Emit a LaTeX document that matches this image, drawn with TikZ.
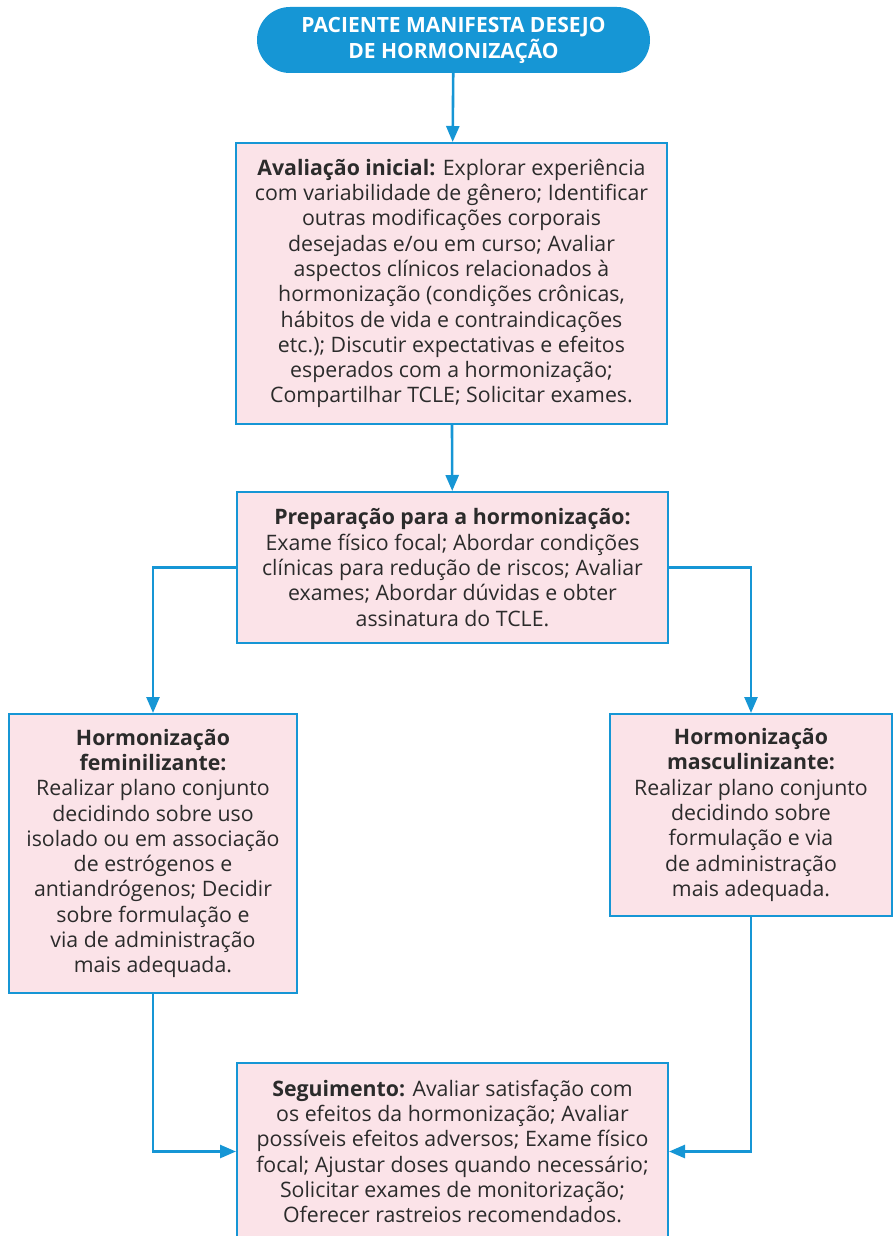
\documentclass[tikz,border=0pt]{standalone}
\usepackage{fontspec}
\setmainfont{Open Sans}
\usepackage{xcolor}
\usepackage{tikz}
\usetikzlibrary{arrows.meta,positioning}

\definecolor{fluxblue}{HTML}{1696D5}
\definecolor{fluxpink}{HTML}{FBE3E8}
\definecolor{fluxtext}{HTML}{2B2B2B}

\begin{document}
\begin{tikzpicture}[x=1pt,y=-1pt,
    startbox/.style={rectangle,rounded corners=33pt,fill=fluxblue,text=white,
      font=\fontsize{21}{26}\selectfont\bfseries,align=center,
      minimum width=393pt,minimum height=66pt,inner sep=0pt},
    stepbox/.style={rectangle,draw=fluxblue,line width=2pt,fill=fluxpink,
      text=fluxtext,font=\fontsize{21.3}{25.3}\selectfont,align=center,inner sep=0pt},
    arr/.style={draw=fluxblue,line width=2.6pt,
      -{Triangle[length=16pt,width=13pt]}}]
  \useasboundingbox (0,0) rectangle (893,1236);
  % start
  \node[startbox] (start) at (453.5,40) {PACIENTE MANIFESTA DESEJO\\DE HORMONIZAÇÃO};
  % steps
  \node[stepbox,minimum width=431pt,minimum height=281pt] (avaliacao) at (451.5,283.5)
    {\textbf{Avaliação inicial:} Explorar experiência\\
     com variabilidade de gênero; Identificar\\
     outras modificações corporais\\
     desejadas e/ou em curso; Avaliar\\
     aspectos clínicos relacionados à\\
     hormonização (condições crônicas,\\
     hábitos de vida e contraindicações\\
     etc.); Discutir expectativas e efeitos\\
     esperados com a hormonização;\\
     Compartilhar TCLE; Solicitar exames.};
  \node[stepbox,minimum width=431pt,minimum height=151pt] (preparo) at (452.5,567.5)
    {\textbf{Preparação para a hormonização:}\\
     Exame físico focal; Abordar condições\\
     clínicas para redução de riscos; Avaliar\\
     exames; Abordar dúvidas e obter\\
     assinatura do TCLE.};
  \node[stepbox,minimum width=288pt,minimum height=279pt] (feminiliz) at (153,853.5)
    {\textbf{Hormonização}\\
     \textbf{feminilizante:}\\
     Realizar plano conjunto\\
     decidindo sobre uso\\
     isolado ou em associação\\
     de estrógenos e\\
     antiandrógenos; Decidir\\
     sobre formulação e\\
     via de administração\\
     mais adequada.};
  \node[stepbox,minimum width=282pt,minimum height=202pt] (masculiniz) at (751,815)
    {\textbf{Hormonização}\\
     \textbf{masculinizante:}\\
     Realizar plano conjunto\\
     decidindo sobre\\
     formulação e via\\
     de administração\\
     mais adequada.};
  \node[stepbox,minimum width=431pt,minimum height=177pt] (seguimento) at (452.5,1151.5)
    {\textbf{Seguimento:} Avaliar satisfação com\\
     os efeitos da hormonização; Avaliar\\
     possíveis efeitos adversos; Exame físico\\
     focal; Ajustar doses quando necessário;\\
     Solicitar exames de monitorização;\\
     Oferecer rastreios recomendados.};
  % connectors
  \draw[arr] (start) -- (avaliacao);
  \draw[arr] (avaliacao) -- (preparo);
  \draw[arr] (preparo.west) -| (feminiliz.north);
  \draw[arr] (preparo.east) -| (masculiniz.north);
  \draw[arr] (feminiliz.south) |- (seguimento.west);
  \draw[arr] (masculiniz.south) |- (seguimento.east);
\end{tikzpicture}
\end{document}
